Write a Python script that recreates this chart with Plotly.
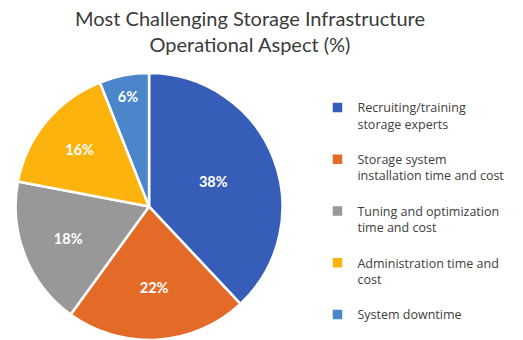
import plotly.graph_objects as go

# Survey shares per operational aspect
aspects = [
    "Recruiting/training<br>storage experts",
    "Storage system<br>installation time and cost",
    "Tuning and optimization<br>time and cost",
    "Administration time and<br>cost",
    "System downtime",
]
shares = [38, 22, 18, 16, 6]
colors = ["#365DB8", "#E46A27", "#989898", "#FDB30E", "#4A86C9"]

# trailing blank line adds breathing room between legend entries
legend_names = [a + "<br> " for a in aspects[:-1]] + [aspects[-1]]

title_text = "Most Challenging Storage Infrastructure<br>Operational Aspect (%)"

fig = go.Figure(
    go.Pie(
        labels=legend_names,
        values=shares,
        sort=False,
        direction="clockwise",
        rotation=0,
        marker=dict(colors=colors, line=dict(color="white", width=2.5)),
        texttemplate="%{value}%",
        textposition="inside",
        insidetextorientation="horizontal",
        textfont=dict(family="Lato", size=14.5, color="white", weight="bold"),
        hoverinfo="label+percent",
        domain=dict(x=[0.029, 0.541], y=[0.0, 0.785]),
    )
)

fig.add_annotation(
    text=title_text,
    x=0.478,
    xref="paper",
    xanchor="center",
    y=1,
    yref="paper",
    yanchor="top",
    yshift=-4,
    showarrow=False,
    font=dict(family="Lato", size=20, color="#3A3A3A"),
)

fig.update_layout(
    width=523,
    height=340,
    margin=dict(l=0, r=0, t=0, b=0),
    paper_bgcolor="white",
    legend=dict(
        x=0.607,
        xanchor="left",
        y=0.727,
        yanchor="top",
        valign="top",
        font=dict(family="Open Sans", size=12.5, color="#404040"),
        itemwidth=30,
        bgcolor="rgba(0,0,0,0)",
    ),
)

fig.write_html("out.html")
